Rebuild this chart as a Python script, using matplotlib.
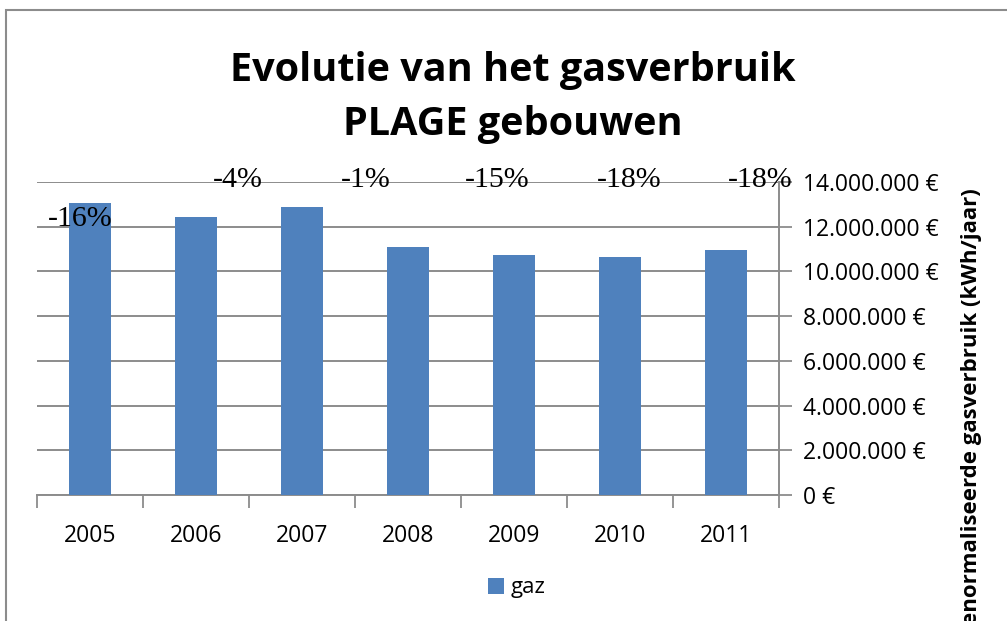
import matplotlib.pyplot as plt
from matplotlib.patches import Rectangle
from matplotlib.ticker import FuncFormatter, FixedLocator

years = ["2005", "2006", "2007", "2008", "2009", "2010", "2011"]
gas = [13_050_000, 12_430_000, 12_880_000, 11_090_000, 10_730_000, 10_640_000, 10_960_000]
pct_labels = ["-16%", "-4%", "-1%", "-15%", "-18%", "-18%"]
pct_x = [-0.09, 1.39, 2.60, 3.84, 5.09, 6.32]
pct_y = [12_350_000, 14_100_000, 14_100_000, 14_100_000, 14_100_000, 14_100_000]

plt.rcParams["font.family"] = ["Open Sans", "DejaVu Sans"]
grey = "#8c8c8c"
blue = "#4f81bd"

fig = plt.figure(figsize=(10.07, 6.21), dpi=100)
ax = fig.add_axes([37 / 1007, 1 - 495 / 621, (779 - 37) / 1007, (495 - 182) / 621])

x = range(len(years))
ax.bar(x, gas, width=0.4, color=blue, label="gaz", zorder=3)

ax.set_xlim(-0.5, len(years) - 0.5)
ax.set_ylim(0, 14_000_000)
ax.set_yticks(range(0, 14_000_001, 2_000_000))
ax.yaxis.set_major_formatter(FuncFormatter(lambda v, p: f"{int(v):,}".replace(",", ".") + " €"))
ax.yaxis.tick_right()
ax.tick_params(axis="y", direction="out", length=9, width=1.3, color=grey,
               labelsize=16.5, pad=8)
ax.grid(axis="y", color=grey, linewidth=1.4, zorder=0)

ax.set_xticks(list(x))
ax.set_xticklabels(years)
ax.xaxis.set_minor_locator(FixedLocator([i - 0.5 for i in range(len(years) + 1)]))
ax.tick_params(axis="x", which="major", length=0, labelsize=16.5, pad=21)
ax.tick_params(axis="x", which="minor", direction="out", length=9, width=1.3, color=grey)

for side in ["top", "left"]:
    ax.spines[side].set_visible(False)
for side in ["bottom", "right"]:
    ax.spines[side].set_color(grey)
    ax.spines[side].set_linewidth(1.4)

for lab, px, py in zip(pct_labels, pct_x, pct_y):
    ax.text(px, py, lab, ha="center", va="center", family="Liberation Serif",
            fontsize=21.5, zorder=4, clip_on=False)

fig.text(513 / 1007, 1 - 98 / 621, "Evolutie van het gasverbruik\nPLAGE gebouwen",
         ha="center", va="center", fontsize=28.5, fontweight="bold", linespacing=1.5)

fig.text(972 / 1007, 1 - 188 / 621, "Genormaliseerde gasverbruik (kWh/jaar)",
         ha="center", va="top", rotation=90, fontsize=16, fontweight="bold")

fig.legend(loc="center", bbox_to_anchor=(517 / 1007, 1 - 588 / 621), frameon=False,
           fontsize=16, handlelength=0.7, handleheight=0.7, handletextpad=0.3)

fig.patches.append(Rectangle((6 / 1007, -0.1), 1.2, 1 - 10 / 621 + 0.1,
                             transform=fig.transFigure, fill=False,
                             edgecolor=grey, linewidth=1.5))

fig.savefig("out.png", dpi=100)
